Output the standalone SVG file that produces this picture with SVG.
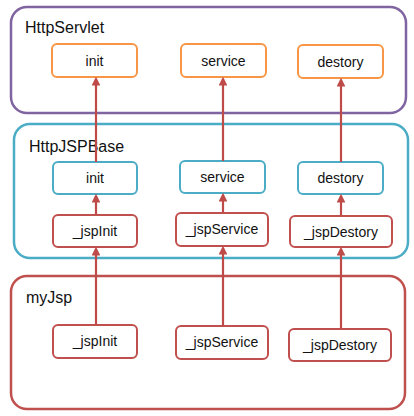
<svg xmlns="http://www.w3.org/2000/svg" width="414" height="416" viewBox="0 0 414 416">
<defs>
<style>
text{font-family:"Liberation Sans",Arial,sans-serif;fill:#111}
.lbl{font-size:14px;text-anchor:middle}
.ttl{font-size:16px}
.box{fill:#fff;stroke-width:2}
.grp{fill:#fff;stroke-width:2.5}
.org{stroke:#F79646}
.blu{stroke:#4BACC6}
.red{stroke:#C0504D}
.pur{stroke:#8064A2}
.arr{stroke:#BE4B48;stroke-width:2.2;fill:none;marker-end:url(#ah)}
</style>
<marker id="ah" markerWidth="4" markerHeight="4" refX="3" refY="2" orient="auto" markerUnits="strokeWidth">
<path d="M0,0 L4,2 L0,4 z" fill="#BE4B48"/>
</marker>
</defs>
<g id="HttpServlet">
<rect class="grp pur" x="11" y="7" width="395" height="106" rx="16"/>
<text class="ttl" x="25" y="33">HttpServlet</text>
</g>
<g id="HttpJSPBase">
<rect class="grp blu" x="14" y="124" width="394" height="134" rx="16"/>
<text class="ttl" x="29" y="152">HttpJSPBase</text>
</g>
<g id="myJsp">
<rect class="grp red" x="11" y="276" width="394" height="133" rx="16"/>
<text class="ttl" x="26" y="303">myJsp</text>
</g>
<g id="hs_init"><rect class="box org" x="52" y="44" width="85" height="33" rx="5"/><text class="lbl" x="94.5" y="65.5">init</text></g>
<g id="hs_service"><rect class="box org" x="181" y="44" width="85" height="33" rx="5"/><text class="lbl" x="223.5" y="65.5">service</text></g>
<g id="hs_destory"><rect class="box org" x="298" y="45" width="85" height="33" rx="5"/><text class="lbl" x="340.5" y="66.5">destory</text></g>
<g id="hb_init"><rect class="box blu" x="53" y="162" width="84" height="32" rx="5"/><text class="lbl" x="95" y="183">init</text></g>
<g id="hb_service"><rect class="box blu" x="180" y="161" width="85" height="32" rx="5"/><text class="lbl" x="222.5" y="182">service</text></g>
<g id="hb_destory"><rect class="box blu" x="298" y="162" width="85" height="32" rx="5"/><text class="lbl" x="340.5" y="183">destory</text></g>
<g id="hb_jspInit"><rect class="box red" x="53" y="215" width="84" height="32" rx="5"/><text class="lbl" x="95" y="236">_jspInit</text></g>
<g id="hb_jspService"><rect class="box red" x="176" y="213" width="92" height="33" rx="5"/><text class="lbl" x="222" y="234">_jspService</text></g>
<g id="hb_jspDestory"><rect class="box red" x="290" y="216" width="102" height="31" rx="5"/><text class="lbl" x="341" y="237">_jspDestory</text></g>
<g id="mj_jspInit"><rect class="box red" x="53" y="325" width="84" height="33" rx="5"/><text class="lbl" x="95" y="346">_jspInit</text></g>
<g id="mj_jspService"><rect class="box red" x="176" y="326" width="92" height="33" rx="5"/><text class="lbl" x="222" y="347">_jspService</text></g>
<g id="mj_jspDestory"><rect class="box red" x="289" y="329" width="102" height="32" rx="5"/><text class="lbl" x="340" y="350">_jspDestory</text></g>
<g id="connectors">
<line class="arr" x1="96" y1="162" x2="96" y2="79"/>
<line class="arr" x1="223" y1="161" x2="223" y2="79"/>
<line class="arr" x1="341" y1="162" x2="341" y2="80"/>
<line class="arr" x1="96" y1="215" x2="96" y2="196"/>
<line class="arr" x1="223" y1="213" x2="223" y2="195"/>
<line class="arr" x1="341" y1="216" x2="341" y2="196"/>
<line class="arr" x1="96" y1="325" x2="96" y2="249"/>
<line class="arr" x1="223" y1="326" x2="223" y2="248"/>
<line class="arr" x1="341" y1="329" x2="341" y2="249"/>
</g>
</svg>
